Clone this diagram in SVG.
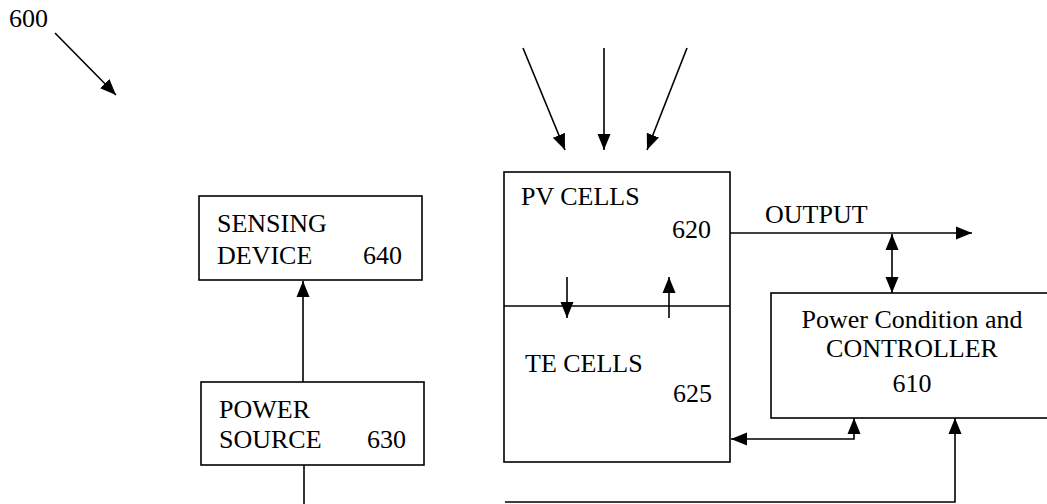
<svg xmlns="http://www.w3.org/2000/svg" width="1047" height="504" viewBox="0 0 1047 504">
<style>
text{font-family:"Liberation Serif","Times New Roman",Times,serif;font-size:26px;fill:#000}
.box{fill:#fff;stroke:#000;stroke-width:1.6}
.ln{fill:none;stroke:#000;stroke-width:1.6}
</style>
<defs>
<marker id="ah" markerUnits="userSpaceOnUse" markerWidth="17" markerHeight="15" refX="16" refY="7.5" orient="auto-start-reverse">
<path d="M0,1 L16,7.5 L0,14 Z" fill="#000"/>
</marker>
</defs>
<rect width="1047" height="504" fill="#fff"/>
<g id="label600">
<text x="9" y="27">600</text>
<line class="ln" x1="55" y1="33" x2="116" y2="95" marker-end="url(#ah)"/>
</g>
<g id="sensing">
<rect class="box" x="199" y="196" width="223" height="84"/>
<text x="217" y="232">SENSING</text>
<text x="217" y="264">DEVICE</text>
<text x="363" y="264">640</text>
</g>
<g id="power">
<rect class="box" x="201" y="382" width="223" height="83"/>
<text x="219" y="418">POWER</text>
<text x="219" y="448">SOURCE</text>
<text x="367" y="448">630</text>
</g>
<g id="pvte">
<rect class="box" x="504" y="172" width="226" height="290"/>
<line class="ln" x1="504" y1="306" x2="730" y2="306"/>
<text x="521" y="205">PV CELLS</text>
<text x="672" y="238">620</text>
<text x="525" y="372">TE CELLS</text>
<text x="673" y="402">625</text>
</g>
<g id="controller">
<rect class="box" x="771" y="293" width="290" height="125"/>
<text x="912" y="328" text-anchor="middle">Power Condition and</text>
<text x="912" y="357" text-anchor="middle">CONTROLLER</text>
<text x="912" y="392" text-anchor="middle">610</text>
</g>
<g id="output">
<text x="765" y="223">OUTPUT</text>
</g>
<g id="connectors">
<line class="ln" x1="523" y1="48" x2="565" y2="150" marker-end="url(#ah)"/>
<line class="ln" x1="604" y1="48" x2="604" y2="150" marker-end="url(#ah)"/>
<line class="ln" x1="687" y1="48" x2="647" y2="150" marker-end="url(#ah)"/>
<line class="ln" x1="567" y1="277" x2="567" y2="318" marker-end="url(#ah)"/>
<line class="ln" x1="669" y1="318" x2="669" y2="277" marker-end="url(#ah)"/>
<line class="ln" x1="303" y1="382" x2="303" y2="281" marker-end="url(#ah)"/>
<line class="ln" x1="304" y1="465" x2="304" y2="504"/>
<line class="ln" x1="730" y1="233" x2="972" y2="233" marker-end="url(#ah)"/>
<line class="ln" x1="892" y1="234" x2="892" y2="293" marker-start="url(#ah)" marker-end="url(#ah)"/>
<polyline class="ln" points="854,418 854,439 731,439" marker-start="url(#ah)" marker-end="url(#ah)"/>
<polyline class="ln" points="505,502 955,502 955,418" marker-end="url(#ah)"/>
</g>
</svg>
